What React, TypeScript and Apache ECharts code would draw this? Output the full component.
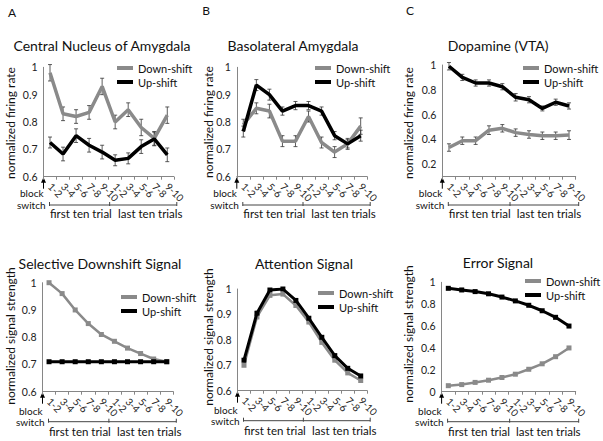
import React, { useEffect, useRef } from "react";
import * as echarts from "echarts";

const CATS = ["1-2", "3-4", "5-6", "7-8", "9-10", "1-2", "3-4", "5-6", "7-8", "9-10"];
const SERIES_NAMES = ["Down-shift", "Up-shift"];

// Panel A — Central Nucleus of Amygdala
const cenDown = [0.98, 0.83, 0.82, 0.835, 0.93, 0.8, 0.845, 0.78, 0.74, 0.825];
const cenDownErr = [0.03, 0.025, 0.025, 0.025, 0.03, 0.025, 0.025, 0.03, 0.025, 0.03];
const cenUp = [0.725, 0.683, 0.75, 0.715, 0.69, 0.66, 0.667, 0.71, 0.738, 0.68];
const cenUpErr = [0.02, 0.025, 0.025, 0.025, 0.025, 0.02, 0.02, 0.025, 0.025, 0.025];
// Panel B — Basolateral Amygdala
const blaDown = [0.79, 0.85, 0.84, 0.73, 0.73, 0.82, 0.725, 0.69, 0.72, 0.785];
const blaDownErr = [0.02, 0.02, 0.025, 0.02, 0.02, 0.02, 0.02, 0.02, 0.02, 0.03];
const blaUp = [0.765, 0.935, 0.9, 0.84, 0.86, 0.86, 0.84, 0.75, 0.72, 0.75];
const blaUpErr = [0.02, 0.02, 0.02, 0.015, 0.015, 0.015, 0.015, 0.015, 0.015, 0.02];
// Panel C — Dopamine (VTA)
const daDown = [0.335, 0.39, 0.39, 0.475, 0.49, 0.455, 0.44, 0.43, 0.43, 0.435];
const daDownErr = [0.03, 0.03, 0.03, 0.035, 0.03, 0.03, 0.03, 0.03, 0.03, 0.035];
const daUp = [0.99, 0.9, 0.855, 0.855, 0.825, 0.74, 0.72, 0.65, 0.7, 0.67];
const daUpErr = [0.03, 0.025, 0.025, 0.025, 0.025, 0.03, 0.025, 0.02, 0.025, 0.025];
// Panel D — Selective Downshift Signal
const selDown = [1.0, 0.96, 0.9, 0.85, 0.81, 0.785, 0.76, 0.74, 0.72, 0.71];
const selUp = [0.71, 0.71, 0.71, 0.71, 0.71, 0.71, 0.71, 0.71, 0.71, 0.71];
// Panel E — Attention Signal
const attDown = [0.7, 0.89, 0.975, 0.98, 0.935, 0.87, 0.79, 0.72, 0.67, 0.64];
const attUp = [0.72, 0.905, 0.996, 1.0, 0.955, 0.885, 0.81, 0.738, 0.688, 0.658];
// Panel F — Error Signal
const errDown = [0.055, 0.065, 0.085, 0.105, 0.13, 0.16, 0.205, 0.255, 0.32, 0.4];
const errUp = [0.945, 0.93, 0.915, 0.895, 0.865, 0.83, 0.79, 0.74, 0.68, 0.6];

const FONT = "Lato";
const GRAY = "#8a8a8a";
const BLACK = "#000000";

type Panel = {
  letter: string;
  title: string;
  yName: string;
  down: number[];
  up: number[];
  downErr?: number[];
  upErr?: number[];
  grid: { left: number; top: number; width: number; height: number };
  y: { min: number; max: number; interval: number; even?: boolean };
  titlePos: [number, number];
  letterPos: [number, number];
  yNamePos: [number, number];
  legendPos: [number, number];
  markers: boolean;
  row: number;
};

const panels: Panel[] = [
  {
    letter: "A", title: "Central Nucleus of Amygdala", yName: "normalized firing rate",
    down: cenDown, up: cenUp, downErr: cenDownErr, upErr: cenUpErr,
    grid: { left: 43.5, top: 67.3, width: 130.3, height: 109.4 },
    y: { min: 0.6, max: 1, interval: 0.1 },
    titlePos: [102, 45], letterPos: [12, 12], yNamePos: [10, 123], legendPos: [117, 61],
    markers: false, row: 0,
  },
  {
    letter: "B", title: "Basolateral Amygdala", yName: "normalized firing rate",
    down: blaDown, up: blaUp, downErr: blaDownErr, upErr: blaUpErr,
    grid: { left: 236.8, top: 67.3, width: 130.4, height: 109.4 },
    y: { min: 0.6, max: 1, interval: 0.1 },
    titlePos: [293, 45], letterPos: [206, 10], yNamePos: [208, 122], legendPos: [315, 61],
    markers: false, row: 0,
  },
  {
    letter: "C", title: "Dopamine (VTA)", yName: "normalized firing rate",
    down: daDown, up: daUp, downErr: daDownErr, upErr: daUpErr,
    grid: { left: 442.3, top: 65, width: 133.4, height: 111.7 },
    y: { min: 0.1, max: 1, interval: 0.1, even: true },
    titlePos: [498, 45], letterPos: [410, 10], yNamePos: [408, 123], legendPos: [523, 61],
    markers: false, row: 0,
  },
  {
    letter: "", title: "Selective Downshift Signal", yName: "normalized signal strength",
    down: selDown, up: selUp,
    grid: { left: 42.5, top: 282.7, width: 130.8, height: 109 },
    y: { min: 0.6, max: 1, interval: 0.1 },
    titlePos: [100, 263], letterPos: [0, 0], yNamePos: [10, 336], legendPos: [121, 290],
    markers: true, row: 1,
  },
  {
    letter: "", title: "Attention Signal", yName: "normalized signal strength",
    down: attDown, up: attUp,
    grid: { left: 237.5, top: 289, width: 129.7, height: 101.7 },
    y: { min: 0.6, max: 1, interval: 0.1 },
    titlePos: [304, 263], letterPos: [0, 0], yNamePos: [208, 337], legendPos: [318, 286],
    markers: true, row: 1,
  },
  {
    letter: "", title: "Error Signal", yName: "normalized signal strength",
    down: errDown, up: errUp,
    grid: { left: 441.6, top: 282.3, width: 134.1, height: 109.4 },
    y: { min: 0, max: 1, interval: 0.2 },
    titlePos: [498, 262], letterPos: [0, 0], yNamePos: [408, 334], legendPos: [525, 274],
    markers: true, row: 1,
  },
];

function fmtNum(v: number) {
  return String(+v.toFixed(1));
}

function errorSeries(idx: number, vals: number[], errs: number[]) {
  return {
    type: "custom",
    name: "err" + idx,
    xAxisIndex: idx,
    yAxisIndex: idx,
    silent: true,
    z: 3,
    data: vals.map((v, j) => [j, v - errs[j], v + errs[j]]),
    encode: { x: 0, y: [1, 2] },
    renderItem: (_p: any, api: any) => {
      const lo = api.coord([api.value(0), api.value(1)]);
      const hi = api.coord([api.value(0), api.value(2)]);
      const c = 2;
      const st = { stroke: "#333", lineWidth: 0.8 };
      return {
        type: "group",
        children: [
          { type: "line", shape: { x1: lo[0], y1: lo[1], x2: hi[0], y2: hi[1] }, style: st },
          { type: "line", shape: { x1: lo[0] - c, y1: lo[1], x2: lo[0] + c, y2: lo[1] }, style: st },
          { type: "line", shape: { x1: hi[0] - c, y1: hi[1], x2: hi[0] + c, y2: hi[1] }, style: st },
        ],
      };
    },
  };
}

function buildOption() {
  const grids: any[] = [];
  const xAxes: any[] = [];
  const yAxes: any[] = [];
  const series: any[] = [];
  const legends: any[] = [];
  const graphics: any[] = [];

  panels.forEach((p, i) => {
    grids.push({ ...p.grid });
    xAxes.push({
      type: "category",
      gridIndex: i,
      data: CATS,
      boundaryGap: true,
      axisLine: { lineStyle: { color: "#868686", width: 1 } },
      axisTick: { show: true, length: 3, lineStyle: { color: "#868686" } },
      axisLabel: { rotate: -45, interval: 0, fontSize: 10, fontFamily: FONT, color: "#222", margin: 8 },
      splitLine: { show: false },
    });
    yAxes.push({
      type: "value",
      gridIndex: i,
      min: p.y.min,
      max: p.y.max,
      interval: p.y.interval,
      axisLine: { show: true, lineStyle: { color: "#868686", width: 1 } },
      axisTick: { show: false },
      splitLine: { show: false },
      axisLabel: {
        fontSize: 10.5,
        fontFamily: FONT,
        color: "#222",
        margin: 6,
        formatter: (v: number) => {
          if (p.y.even) return Math.round(v * 10) % 2 === 0 ? fmtNum(v) : "";
          return fmtNum(v);
        },
      },
    });

    const lw = p.markers ? 2.5 : 3.5;
    if (p.downErr) series.push(errorSeries(i, p.down, p.downErr));
    if (p.upErr) series.push(errorSeries(i, p.up, p.upErr));
    series.push({
      type: "line",
      name: "Down-shift",
      xAxisIndex: i,
      yAxisIndex: i,
      data: p.down,
      z: 4,
      showSymbol: p.markers,
      symbol: "rect",
      symbolSize: 5,
      lineStyle: { color: GRAY, width: lw },
      itemStyle: { color: GRAY },
    });
    series.push({
      type: "line",
      name: "Up-shift",
      xAxisIndex: i,
      yAxisIndex: i,
      data: p.up,
      z: 5,
      showSymbol: p.markers,
      symbol: "rect",
      symbolSize: 5,
      lineStyle: { color: BLACK, width: p.markers ? 3 : 3.5 },
      itemStyle: { color: BLACK },
    });

    legends.push({
      orient: "vertical",
      left: p.legendPos[0],
      top: p.legendPos[1],
      padding: 0,
      itemGap: 0,
      itemWidth: 16,
      itemHeight: 4,
      icon: "rect",
      selectedMode: false,
      textStyle: { fontSize: 11, fontFamily: FONT, color: "#111", lineHeight: 14 },
      data: SERIES_NAMES,
    });

    const txt = (x: number, y: number, text: string, size: number, align = "center", extra: any = {}) => ({
      type: "text",
      x,
      y,
      ...extra,
      style: { text, fontSize: size, fontFamily: FONT, fill: "#111", align, verticalAlign: "middle" },
    });
    if (p.letter) graphics.push(txt(p.letterPos[0], p.letterPos[1], p.letter, 12));
    graphics.push(txt(p.titlePos[0], p.titlePos[1], p.title, 14));
    graphics.push(txt(p.yNamePos[0], p.yNamePos[1], p.yName, 12, "center", { rotation: Math.PI / 2 }));

    const L = p.grid.left;
    const B = p.grid.top + p.grid.height;
    const W = p.grid.width;
    const off = p.row === 0 ? { block: 16.5, sw: 28.3, lab: 37 } : { block: 19, sw: 30, lab: 40 };
    graphics.push({ type: "line", shape: { x1: L, y1: B + 2, x2: L, y2: B + 12 }, style: { stroke: "#000", lineWidth: 1 } });
    graphics.push({ type: "polygon", shape: { points: [[L - 2.5, B + 6], [L + 2.5, B + 6], [L, B + 0.5]] }, style: { fill: "#000" } });
    graphics.push(txt(L, B + off.block, "block", 10, "right"));
    graphics.push(txt(L + 2, B + off.sw, "switch", 10, "right"));
    const bx1 = L + 6;
    const bx2 = L + W + 3;
    const bm = L + W / 2 + 1;
    const by = B + off.sw;
    const bs = { stroke: "#444", lineWidth: 1 };
    graphics.push({ type: "line", shape: { x1: bx1, y1: by, x2: bx2, y2: by }, style: bs });
    [bx1, bm, bx2].forEach((x) =>
      graphics.push({ type: "line", shape: { x1: x, y1: by - 3, x2: x, y2: by + 1 }, style: bs })
    );
    graphics.push(txt(L + 6.5, B + off.lab, "first ten trial", 11.5, "left"));
    graphics.push(txt(L + 74.5, B + off.lab, "last ten trials", 11.5, "left"));
  });

  return {
    animation: false,
    backgroundColor: "#ffffff",
    grid: grids,
    xAxis: xAxes,
    yAxis: yAxes,
    legend: legends,
    series,
    graphic: graphics,
  };
}

export default function App() {
  const ref = useRef<HTMLDivElement>(null);
  useEffect(() => {
    if (!ref.current) return;
    const chart = echarts.init(ref.current, null, { renderer: "svg" });
    chart.setOption(buildOption() as any);
    return () => chart.dispose();
  }, []);
  return (
    <div
      ref={ref}
      style={{ position: "fixed", left: 0, top: 0, width: 603, height: 441, background: "#fff" }}
    />
  );
}
